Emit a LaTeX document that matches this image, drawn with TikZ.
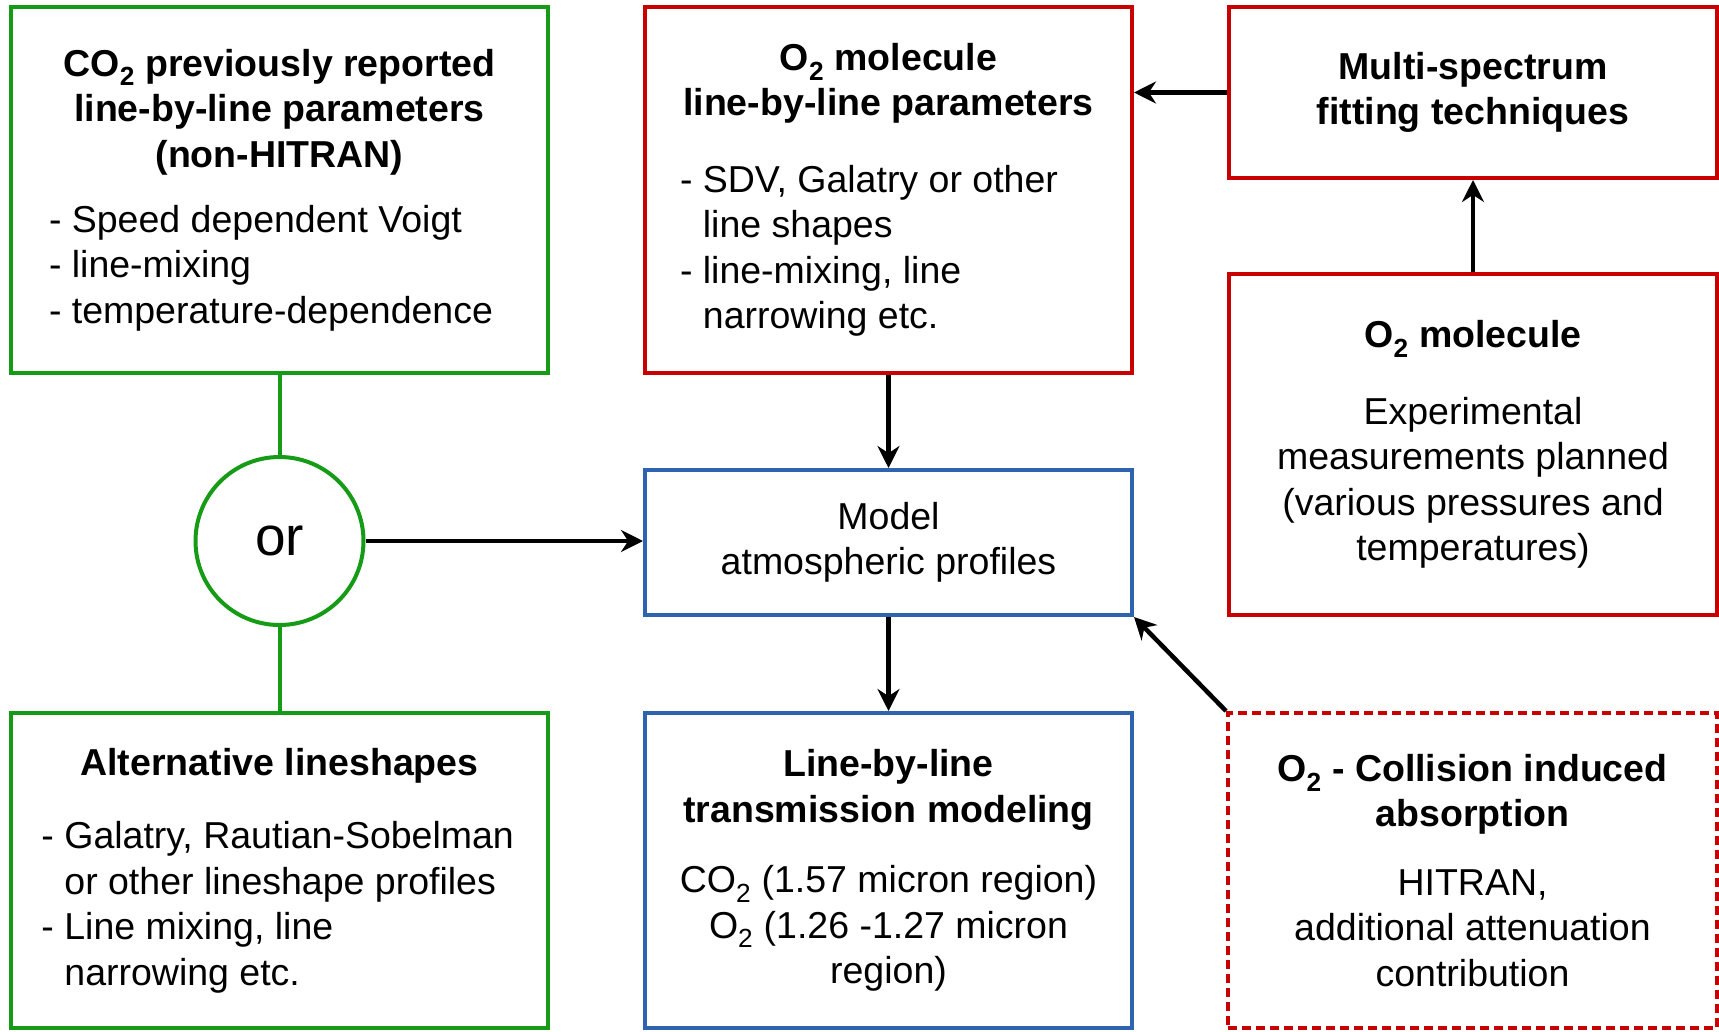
\documentclass[tikz,border=0pt]{standalone}
\usepackage{fontspec}
\setmainfont{Liberation Sans}
\usetikzlibrary{arrows.meta}
\definecolor{gcol}{RGB}{22,155,22}
\definecolor{rcol}{RGB}{200,0,0}
\definecolor{bcol}{RGB}{46,100,175}
\newcommand{\bitem}[2]{\makebox[#1][l]{-~#2}}
\newcommand{\bcont}[2]{\makebox[#1][l]{\hphantom{-~}#2}}
\begin{document}
\begin{tikzpicture}[x=1pt,y=-1pt,
  font=\fontsize{37.5}{45.5}\selectfont,
  box/.style={rectangle, draw, line width=4pt, inner sep=0pt, align=center, text=black},
  gbx/.style={box, draw=gcol},
  rbx/.style={box, draw=rcol},
  bbx/.style={box, draw=bcol},
  rdbx/.style={box, draw=rcol, dash pattern=on 9pt off 5pt},
  gline/.style={draw=gcol, line width=4pt},
  arr/.style={draw=black, line width=4.5pt, -{Stealth[length=22pt,width=22pt]}}]
\useasboundingbox (0,0) rectangle (1719,1031);
\node[gbx, minimum width=537pt, minimum height=366pt] (co2) at (279.5,190)
 {\textbf{CO\textsubscript{2} previously reported}\\
  \textbf{line-by-line parameters}\\
  \textbf{(non-HITRAN)}\\[19.5pt]
  \bitem{461pt}{Speed dependent Voigt}\\
  \bitem{461pt}{line-mixing}\\
  \bitem{461pt}{temperature-dependence}};
\node[rbx, minimum width=487pt, minimum height=366pt] (o2p) at (888.5,190)
 {\textbf{O\textsubscript{2} molecule}\\
  \textbf{line-by-line parameters}\\[31pt]
  \bitem{417pt}{SDV, Galatry or other}\\
  \bcont{417pt}{line shapes}\\
  \bitem{417pt}{line-mixing, line}\\
  \bcont{417pt}{narrowing etc.}};
\node[rbx, minimum width=488pt, minimum height=171pt] (multi) at (1473,92.5)
 {\textbf{Multi-spectrum}\\ \textbf{fitting techniques}};
\node[rbx, minimum width=488pt, minimum height=341pt] (o2m) at (1473,444.5)
 {\textbf{O\textsubscript{2} molecule}\\[31pt]
  Experimental\\ measurements planned\\ (various pressures and\\ temperatures)};
\node[circle, draw=gcol, line width=4pt, minimum size=168pt, inner sep=0pt,
  font=\fontsize{55}{60}\selectfont] (or) at (279.5,541) {or};
\node[bbx, minimum width=487pt, minimum height=145pt] (model) at (888.5,542.5)
 {Model\\ atmospheric profiles};
\node[gbx, minimum width=537pt, minimum height=315pt] (alt) at (279.5,870.5)
 {\textbf{Alternative lineshapes}\\[28pt]
  \bitem{476pt}{Galatry, Rautian-Sobelman}\\
  \bcont{476pt}{or other lineshape profiles}\\
  \bitem{476pt}{Line mixing, line}\\
  \bcont{476pt}{narrowing etc.}};
\node[bbx, minimum width=487pt, minimum height=315pt] (lbl) at (888.5,870.5)
 {\textbf{Line-by-line}\\ \textbf{transmission modeling}\\[25pt]
  CO\textsubscript{2} (1.57 micron region)\\
  O\textsubscript{2} (1.26 -1.27 micron\\ region)};
\node[rdbx, minimum width=489pt, minimum height=315pt] (cia) at (1472.5,870.5)
 {\textbf{O\textsubscript{2} - Collision induced}\\ \textbf{absorption}\\[23pt]
  HITRAN,\\ additional attenuation\\ contribution};
\draw[gline] (co2.south) -- (or.north);
\draw[gline] (or.south) -- (alt.north);
\draw[arr] (or.east) -- (or.east -| model.west);
\draw[arr] (o2p.south) -- (model.north);
\draw[arr] (multi.west) -- (multi.west -| o2p.east);
\draw[arr] (o2m.north) -- (multi.south);
\draw[arr] (model.south) -- (lbl.north);
\draw[arr] (cia.north west) -- (model.south east);
\end{tikzpicture}
\end{document}
